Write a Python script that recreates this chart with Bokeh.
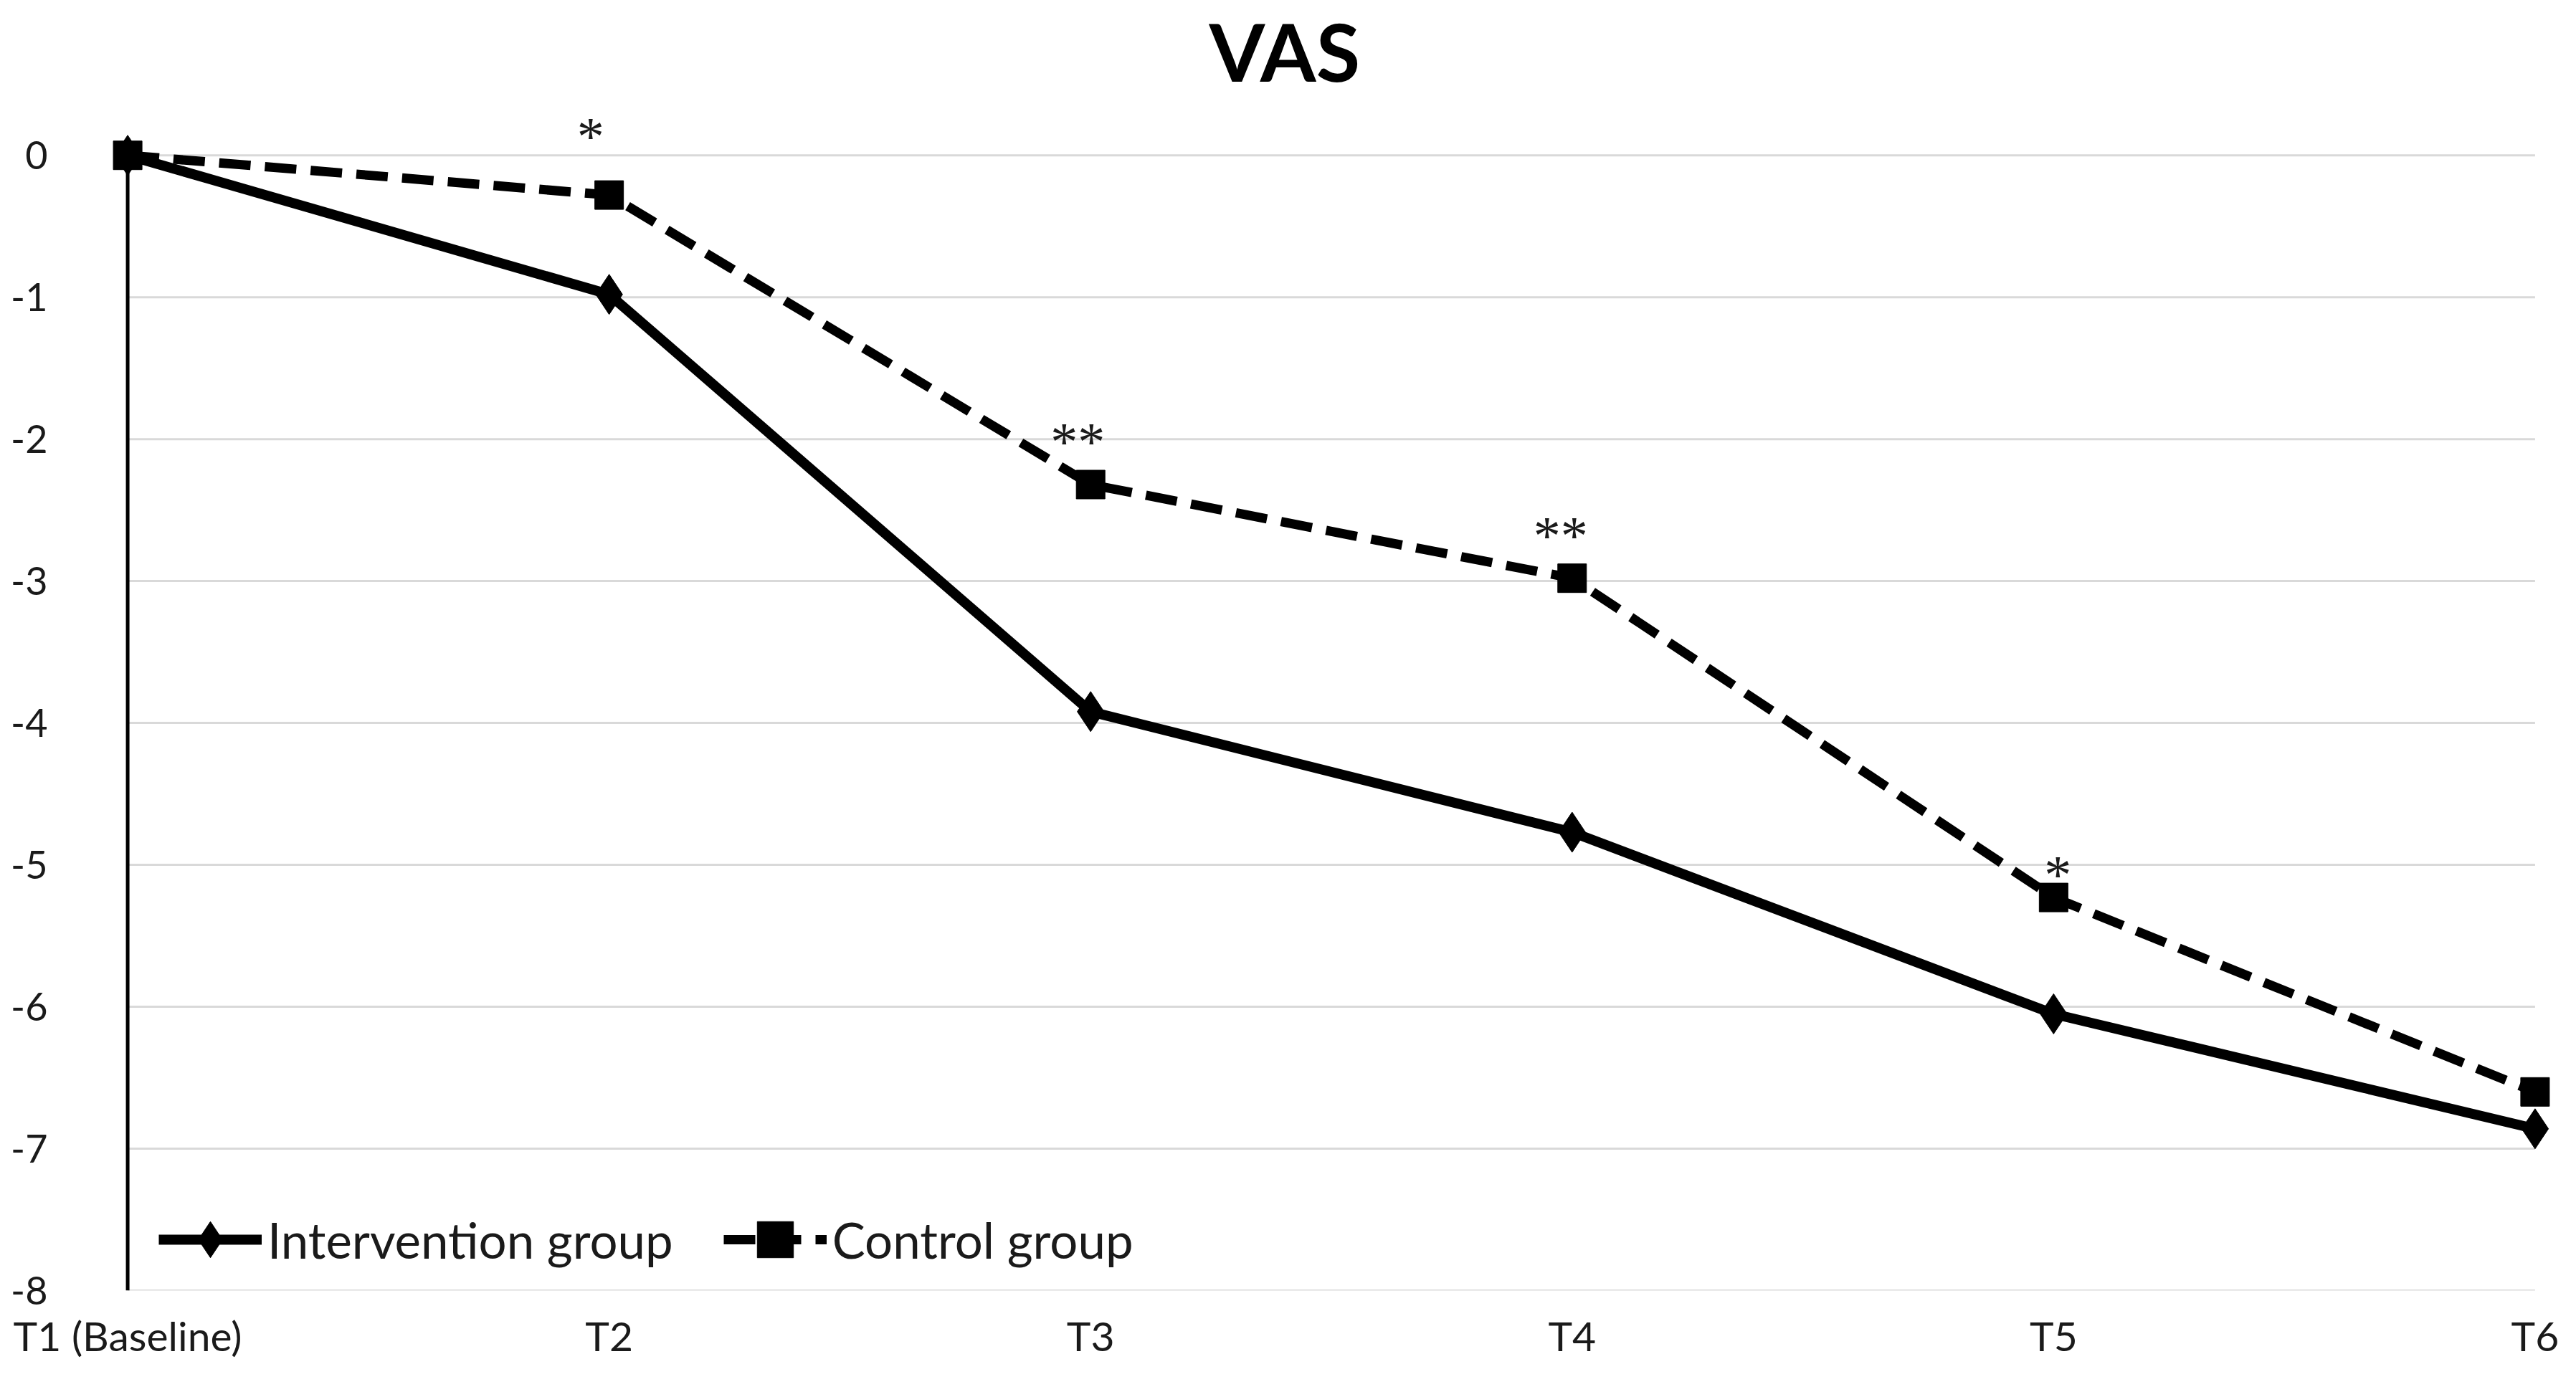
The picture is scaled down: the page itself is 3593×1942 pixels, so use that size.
from bokeh.plotting import figure
from bokeh.models import Range1d, FixedTicker, Legend, LegendItem, ColumnDataSource
from bokeh.core.properties import value
from bokeh.embed import file_html
from bokeh.resources import INLINE

# ---- data ----
timepoints = ["T1 (Baseline)", "T2", "T3", "T4", "T5", "T6"]
intervention = [0.0, -0.98, -3.92, -4.77, -6.05, -6.86]
control = [0.0, -0.28, -2.32, -2.98, -5.23, -6.60]
significance = ["", "*", "**", "**", "*", ""]
y_ticks = [0, -1, -2, -3, -4, -5, -6, -7, -8]
title_text = "VAS"
series_names = ["Intervention group", "Control group"]

# styles for significance markers (screen offsets)
sig_y_offset = [0, -82, -60, -60, -32, 0]
sig_x_offset = [0, -26, -18, -16, 6, 0]

FONT = "Lato"
x = list(range(len(timepoints)))
PAD = 0.05

p = figure(width=3576, height=1924, output_backend="svg", toolbar_location=None,
           x_range=Range1d(x[0] - PAD, x[-1] + PAD), y_range=Range1d(-8, 0.4),
           min_border_left=144, min_border_right=7, min_border_bottom=124,
           min_border_top=0)

p.title.text = title_text
p.title.align = "left"
p.title.text_font = FONT
p.title.text_font_style = "bold"
p.title.text_font_size = "112px"
p.title.text_color = "black"
p.title.offset = 1542
p.title.standoff = 0

p.outline_line_alpha = 0
p.background_fill_color = "white"
p.border_fill_color = "white"

# axes
p.xaxis.ticker = FixedTicker(ticks=x)
p.xaxis.major_label_overrides = {i: t for i, t in zip(x, timepoints)}
p.xaxis.axis_line_alpha = 0
p.xaxis.major_tick_line_alpha = 0
p.xaxis.minor_tick_line_alpha = 0
p.xaxis.major_label_text_font = FONT
p.xaxis.major_label_text_font_size = "57px"
p.xaxis.major_label_text_color = "#1a1a1a"
p.xaxis.major_label_standoff = 22

p.yaxis.ticker = FixedTicker(ticks=y_ticks)
p.yaxis.major_label_overrides = {t: str(t) for t in y_ticks}
p.yaxis.axis_line_alpha = 0
p.yaxis.major_tick_line_alpha = 0
p.yaxis.minor_tick_line_alpha = 0
p.yaxis.major_label_text_font = FONT
p.yaxis.major_label_text_font_size = "54px"
p.yaxis.major_label_text_color = "#1a1a1a"
p.yaxis.major_label_standoff = 72

p.xgrid.visible = False
p.ygrid.visible = False

# horizontal gridlines from first to last timepoint
p.segment(x0=[x[0]] * len(y_ticks), x1=[x[-1]] * len(y_ticks), y0=y_ticks, y1=y_ticks,
          line_color="#d9d9d9", line_width=3)
# vertical axis line at the first timepoint
p.segment(x0=[x[0]], x1=[x[0]], y0=[min(y_ticks)], y1=[max(y_ticks)],
          line_color="black", line_width=5)

# series
l1 = p.line(x, intervention, line_width=14, line_color="black", line_join="round")
m1 = p.scatter(x, intervention, marker="diamond", size=56, fill_color="black", line_color="black")
l2 = p.line(x, control, line_width=13, line_color="black", line_dash="44 20")
m2 = p.scatter(x, control, marker="square", size=40, fill_color="black", line_color="black")

# significance marks
sx, sy, st, sxo, syo = [], [], [], [], []
for i, s in enumerate(significance):
    if s:
        sx.append(x[i]); sy.append(control[i]); st.append(s)
        sxo.append(sig_x_offset[i]); syo.append(sig_y_offset[i])
src = ColumnDataSource(dict(x=sx, y=sy, text=st, xo=sxo, yo=syo))
p.text(x="x", y="y", text="text", x_offset="xo", y_offset="yo", source=src,
       text_font=value("Liberation Serif"), text_font_size="76px",
       text_align="center", text_baseline="middle", text_color="#1a1a1a")

legend = Legend(items=[LegendItem(label=series_names[0], renderers=[l1, m1]),
                       LegendItem(label=series_names[1], renderers=[l2, m2])],
                location=(77, 8), orientation="horizontal",
                padding=0, margin=0, spacing=70, label_standoff=8,
                glyph_width=144, glyph_height=126,
                label_text_font=FONT, label_text_font_size="69px",
                label_text_color="#1a1a1a",
                border_line_alpha=0, background_fill_alpha=0)
p.add_layout(legend)

open("out.html", "w").write(file_html(p, INLINE))
